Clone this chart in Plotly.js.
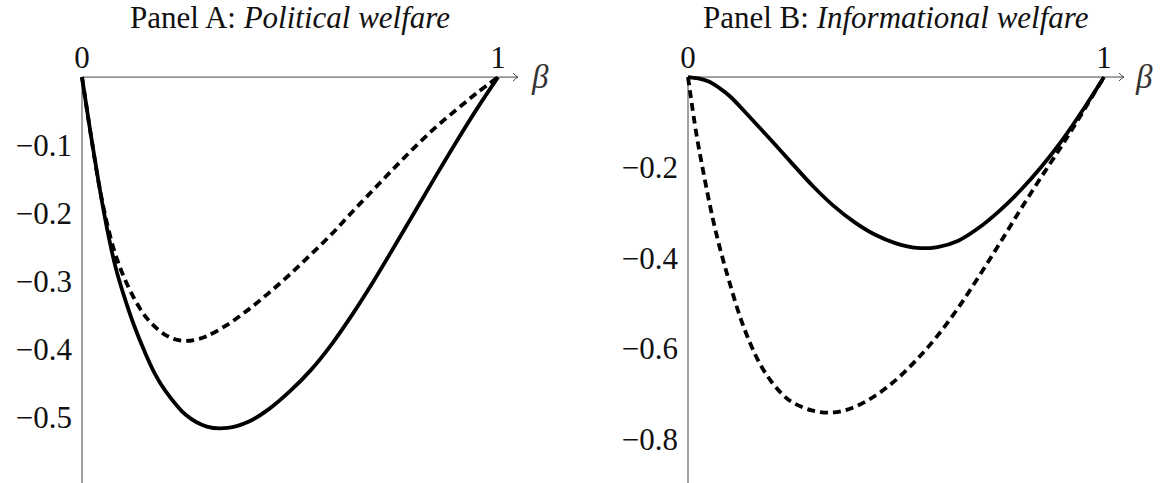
<!DOCTYPE html>
<html>
<head>
<meta charset="utf-8">
<script src="https://cdn.plot.ly/plotly-3.0.1.min.js"></script>
<style>html,body{margin:0;padding:0;background:#fff;}#chart{width:1164px;height:483px;}</style>
</head>
<body>
<div id="chart"></div>
<script>
// ---- data ----
const betaA = [0, 0.02, 0.04, 0.06, 0.08, 0.1, 0.125, 0.15, 0.175, 0.2, 0.25, 0.3, 0.35, 0.4, 0.45, 0.5, 0.55, 0.6, 0.65, 0.7, 0.75, 0.8, 0.85, 0.9, 0.95, 1];
const politicalSolid = [0, -0.08, -0.155, -0.222, -0.278, -0.32, -0.365, -0.403, -0.436, -0.461, -0.497, -0.514, -0.516, -0.507, -0.488, -0.462, -0.431, -0.393, -0.349, -0.301, -0.25, -0.198, -0.146, -0.095, -0.046, 0];
const betaAd = [0, 0.02, 0.04, 0.06, 0.08, 0.1, 0.125, 0.15, 0.175, 0.2, 0.225, 0.25, 0.275, 0.3, 0.35, 0.4, 0.45, 0.5, 0.55, 0.6, 0.65, 0.7, 0.75, 0.8, 0.85, 0.9, 0.95, 1];
const politicalDashed = [0, -0.08, -0.155, -0.215, -0.26, -0.293, -0.325, -0.35, -0.367, -0.379, -0.386, -0.388, -0.386, -0.381, -0.364, -0.342, -0.317, -0.29, -0.261, -0.231, -0.198, -0.166, -0.134, -0.103, -0.074, -0.048, -0.023, 0];

const betaB = [0, 0.025, 0.05, 0.075, 0.1, 0.15, 0.2, 0.25, 0.3, 0.35, 0.4, 0.45, 0.5, 0.55, 0.6, 0.65, 0.7, 0.75, 0.8, 0.85, 0.9, 0.95, 1];
const informationalSolid = [0, -0.003, -0.01, -0.024, -0.042, -0.09, -0.14, -0.191, -0.241, -0.285, -0.321, -0.349, -0.368, -0.378, -0.376, -0.362, -0.333, -0.295, -0.25, -0.198, -0.139, -0.072, 0];
const betaBd = [0, 0.02, 0.04, 0.06, 0.08, 0.1, 0.125, 0.15, 0.175, 0.2, 0.225, 0.25, 0.3, 0.35, 0.4, 0.45, 0.5, 0.55, 0.6, 0.65, 0.7, 0.75, 0.8, 0.85, 0.9, 0.95, 1];
const informationalDashed = [0, -0.125, -0.225, -0.315, -0.39, -0.455, -0.53, -0.59, -0.638, -0.673, -0.7, -0.719, -0.738, -0.742, -0.73, -0.705, -0.67, -0.625, -0.572, -0.51, -0.44, -0.367, -0.292, -0.22, -0.15, -0.076, 0];

const xTicks = [0, 1];
const xTickText = ['0', '1'];
const yTicksA = [-0.1, -0.2, -0.3, -0.4, -0.5];
const yTickTextA = ['\u22120.1', '\u22120.2', '\u22120.3', '\u22120.4', '\u22120.5'];
const yTicksB = [-0.2, -0.4, -0.6, -0.8];
const yTickTextB = ['\u22120.2', '\u22120.4', '\u22120.6', '\u22120.8'];
const titleA = 'Panel A: <i>Political welfare</i>';
const titleB = 'Panel B: <i>Informational welfare</i>';

// ---- styling ----
const FONT = '"Liberation Serif", "DejaVu Serif", serif';
const FS = 31;
const W = 1164, H = 483;
const unitPx = 416;          // pixels per beta unit
const x0A = 82, x0B = 688;   // pixel of beta=0
const xMin = -0.03, xMax = 1.12;
const yRangeA = [-0.597, 0.04];
const yRangeB = [-0.898, 0.06];
const yDomTop = 0.8967;
const arrowEnd = 1.048;
const axisColor = '#444';
const textColor = '#111';

function dom(x0){ return [(x0 + xMin*unitPx)/W, (x0 + xMax*unitPx)/W]; }

const solid = {color: '#000', width: 3.8, shape: 'spline', smoothing: 1};
const dashed = {color: '#000', width: 3.8, dash: '8px,5px', shape: 'spline', smoothing: 1};

const traces = [
  {x: betaA, y: politicalSolid, xaxis: 'x', yaxis: 'y', mode: 'lines', line: solid, hoverinfo: 'skip'},
  {x: betaAd, y: politicalDashed, xaxis: 'x', yaxis: 'y', mode: 'lines', line: dashed, hoverinfo: 'skip'},
  {x: betaB, y: informationalSolid, xaxis: 'x2', yaxis: 'y2', mode: 'lines', line: solid, hoverinfo: 'skip'},
  {x: betaBd, y: informationalDashed, xaxis: 'x2', yaxis: 'y2', mode: 'lines', line: dashed, hoverinfo: 'skip'}
];

const xAxisPos = (H - 77) / H;
function xaxisCfg(x0){
  return {domain: dom(x0), range: [xMin, xMax], anchor: 'free', position: xAxisPos,
    side: 'top', showgrid: false, zeroline: false, showline: false, ticks: '',
    tickvals: xTicks, ticktext: xTickText, ticklabelstandoff: 3,
    tickfont: {family: FONT, size: FS, color: textColor}, fixedrange: true};
}
function yaxisCfg(x0, range, tv, tt){
  return {domain: [0, yDomTop], range: range, anchor: 'free', position: x0 / W, side: 'left',
    showgrid: false, zeroline: false, showline: false, ticks: '',
    tickvals: tv, ticktext: tt, ticklabelstandoff: 10,
    tickfont: {family: FONT, size: FS, color: textColor}, fixedrange: true};
}

function axisShapes(xr, yr, yBottom){
  return [
    {type: 'line', xref: xr, yref: yr, x0: 0, x1: arrowEnd, y0: 0, y1: 0, line: {color: axisColor, width: 1}, layer: 'below'},
    {type: 'line', xref: xr, yref: yr, x0: 0, x1: 0, y0: 0, y1: yBottom, line: {color: axisColor, width: 1}, layer: 'below'},
    {type: 'path', xref: xr, yref: yr, xsizemode: 'pixel', ysizemode: 'pixel', xanchor: arrowEnd, yanchor: 0,
     path: 'M -5 4 Q -2 1 0 0 Q -2 -1 -5 -4', line: {color: axisColor, width: 1}, layer: 'below'}
  ];
}

const layout = {
  width: W, height: H,
  margin: {l: 0, r: 0, t: 0, b: 0},
  paper_bgcolor: '#fff', plot_bgcolor: 'rgba(0,0,0,0)',
  showlegend: false,
  font: {family: FONT, size: FS, color: textColor},
  xaxis: xaxisCfg(x0A),
  yaxis: yaxisCfg(x0A, yRangeA, yTicksA, yTickTextA),
  xaxis2: xaxisCfg(x0B),
  yaxis2: yaxisCfg(x0B, yRangeB, yTicksB, yTickTextB),
  shapes: [].concat(axisShapes('x', 'y', yRangeA[0]), axisShapes('x2', 'y2', yRangeB[0])),
  annotations: [
    {text: titleA, xref: 'x', yref: 'paper', x: 0.5, y: (H - 18) / H, xanchor: 'center', yanchor: 'middle', showarrow: false, font: {family: FONT, size: FS, color: textColor}},
    {text: titleB, xref: 'x2', yref: 'paper', x: 0.5, y: (H - 18) / H, xanchor: 'center', yanchor: 'middle', showarrow: false, font: {family: FONT, size: FS, color: textColor}},
    {text: '<i>\u03b2</i>', xref: 'x', yref: 'y', x: 1.1, y: 0, xanchor: 'center', yanchor: 'middle', showarrow: false, font: {family: FONT, size: FS + 2, color: '#333'}},
    {text: '<i>\u03b2</i>', xref: 'x2', yref: 'y2', x: 1.095, y: 0, xanchor: 'center', yanchor: 'middle', showarrow: false, font: {family: FONT, size: FS + 2, color: '#333'}}
  ]
};

Plotly.newPlot('chart', traces, layout, {displayModeBar: false, staticPlot: true});
</script>
</body>
</html>
